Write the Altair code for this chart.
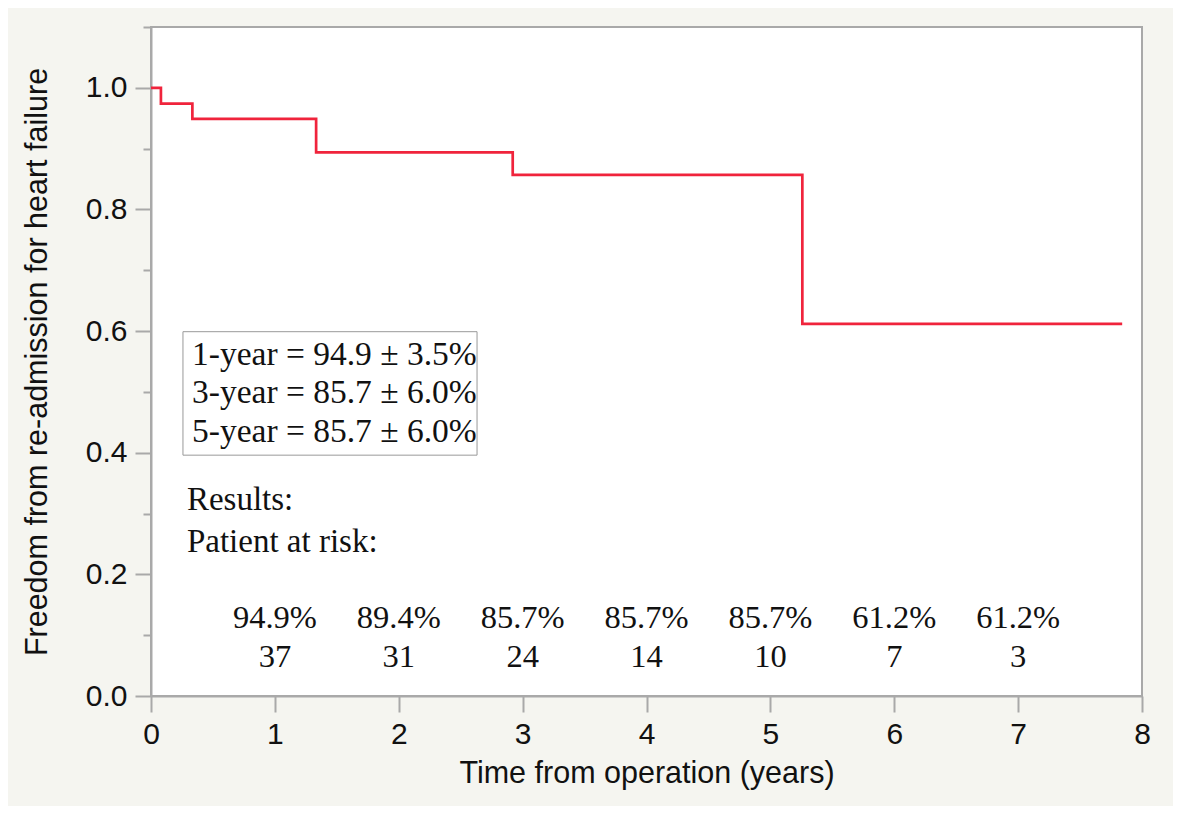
import altair as alt
import pandas as pd

# Kaplan-Meier steps
times = [0.0, 0.08, 0.334, 1.333, 2.92, 5.258, 7.84]
surv = [1.0, 0.974, 0.949, 0.894, 0.857, 0.612, 0.612]

box_lines = ["1-year = 94.9 ± 3.5%", "3-year = 85.7 ± 6.0%", "5-year = 85.7 ± 6.0%"]
risk_years = [1, 2, 3, 4, 5, 6, 7]
risk_pct = ["94.9%", "89.4%", "85.7%", "85.7%", "85.7%", "61.2%", "61.2%"]
at_risk = ["37", "31", "24", "14", "10", "7", "3"]

x_ticks = [i * 0.5 for i in range(17)]
y_ticks = [round(i * 0.1, 1) for i in range(12)]

km = pd.DataFrame({"t": times, "s": surv})
risk = pd.DataFrame({"yr": risk_years, "pct": risk_pct, "n": at_risk})

GRAY = "#a9a9a9"
SANS = "Liberation Sans"
SERIF = "Liberation Serif"

xscale = alt.Scale(domain=[0, 8], nice=False, zero=False)
yscale = alt.Scale(domain=[0, 1.1], nice=False)

xaxis = alt.Axis(
    values=x_ticks,
    format="d",
    labelFlush=False,
    labelExpr="datum.value % 1 === 0 ? datum.label : ''",
    tickSize={"condition": {"test": "datum.value % 1 === 0", "value": 16}, "value": 8},
    grid=False,
    title="Time from operation (years)",
)
yaxis = alt.Axis(
    values=y_ticks,
    format=".1f",
    labelFlush=False,
    labelExpr="round(datum.value * 10) % 2 === 0 && datum.value < 1.05 ? datum.label : ''",
    tickSize={"condition": {"test": "round(datum.value * 10) % 2 === 0 && datum.value < 1.05", "value": 16}, "value": 8},
    grid=False,
    title="Freedom from re-admission for heart failure",
)

line = alt.Chart(km).mark_line(
    interpolate="step-after", color="#f0243c", strokeWidth=2.7
).encode(
    x=alt.X("t:Q", scale=xscale, axis=xaxis),
    y=alt.Y("s:Q", scale=yscale, axis=yaxis),
)

box = alt.Chart(pd.DataFrame({"a": [0]})).mark_rect(
    fill="white", stroke="#999999", strokeWidth=1
).encode(
    x=alt.datum(0.258, scale=xscale),
    x2=alt.datum(2.632),
    y=alt.datum(0.599, scale=yscale),
    y2=alt.datum(0.396),
)

layers = [box, line]
for txt, yv in zip(box_lines, [0.544, 0.482, 0.418]):
    layers.append(
        alt.Chart(pd.DataFrame({"a": [0]})).mark_text(
            font=SERIF, fontSize=33.5, align="left", baseline="alphabetic", color="#111"
        ).encode(x=alt.datum(0.331), y=alt.datum(yv), text=alt.value(txt))
    )
for txt, yv in zip(["Results:", "Patient at risk:"], [0.306, 0.237]):
    layers.append(
        alt.Chart(pd.DataFrame({"a": [0]})).mark_text(
            font=SERIF, fontSize=33, align="left", baseline="alphabetic", color="#111"
        ).encode(x=alt.datum(0.29), y=alt.datum(yv), text=alt.value(txt))
    )

pct_text = alt.Chart(risk).mark_text(
    font=SERIF, fontSize=32.5, align="center", baseline="alphabetic", color="#111"
).encode(x="yr:Q", y=alt.datum(0.112), text="pct:N")
n_text = alt.Chart(risk).mark_text(
    font=SERIF, fontSize=32.5, align="center", baseline="alphabetic", color="#111"
).encode(x="yr:Q", y=alt.datum(0.048), text="n:N")
layers += [pct_text, n_text]

chart = alt.layer(*layers).properties(
    width=991,
    height=669,
    autosize=alt.AutoSizeParams(type="none"),
    padding={"left": 143, "top": 19, "right": 31, "bottom": 110},
    background="#f5f5f0",
).configure_view(
    fill="white", stroke=GRAY, strokeWidth=2
).configure_axis(
    domainColor=GRAY,
    domainWidth=2,
    tickColor=GRAY,
    tickWidth=2,
    labelFont=SANS,
    labelFontSize=30,
    labelColor="#111",
    titleFont=SANS,
    titleFontSize=30.5,
    titleFontWeight="normal",
    titleColor="#111",
).configure_axisX(
    labelPadding=7, titlePadding=9
).configure_axisY(
    labelPadding=8, titlePadding=33
)

chart.save("out.html", embed_options={"renderer": "svg", "actions": False})
